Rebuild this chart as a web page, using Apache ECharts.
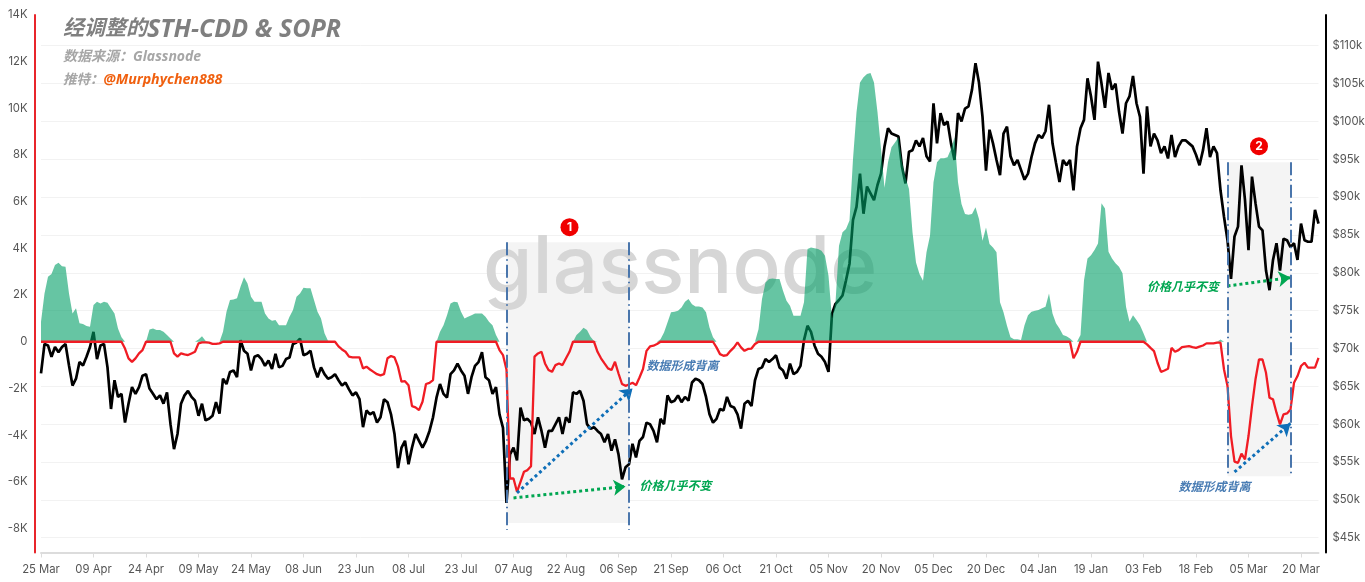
<!DOCTYPE html>
<html>
<head>
<meta charset="utf-8">
<title>STH-CDD & SOPR</title>
<script src="https://cdn.jsdelivr.net/npm/echarts@6/dist/echarts.min.js"></script>
<style>
  html, body { margin: 0; padding: 0; background: #fff; }
  #chart { width: 1365px; height: 582px; }
</style>
</head>
<body>
<div id="chart"></div>
<script>
// daily values, starting 25 Mar
var price = [
  66.7,70.6,70.4,68.9,70.2,69.5,70.2,70.6,67.75,65.1,
  66.0,68.2,67.75,68.9,70.2,72.2,68.6,70.4,70.6,67.5,
  62.0,65.8,63.6,64.0,60.2,62.7,64.9,64.0,64.9,66.4,
  66.6,64.7,64.0,63.3,63.8,62.7,64.2,60.0,56.7,58.7,
  62.7,63.8,64.4,63.6,63.1,61.1,62.7,60.5,60.7,61.1,
  62.9,61.4,66.0,65.3,66.9,67.1,66.2,71.1,69.7,69.3,
  67.1,68.9,69.1,68.6,67.7,68.4,67.3,69.3,67.5,67.7,
  68.6,68.8,70.6,70.8,71.3,69.1,69.3,69.7,67.5,66.2,
  67.5,66.6,66.0,66.2,66.6,65.8,65.1,65.5,64.6,63.8,
  64.2,63.3,59.6,61.8,61.3,61.6,60.2,60.9,63.3,62.9,
  61.3,58.7,54.2,56.9,57.8,54.7,56.9,58.7,57.8,56.9,
  57.8,59.1,60.9,63.5,65.3,64.0,63.5,66.6,67.1,68.0,
  67.1,66.4,64.0,66.2,67.7,68.2,69.5,66.2,65.8,64.0,
  64.9,61.3,59.5,49.6,56.0,56.9,55.2,62.2,60.5,60.7,
  60.2,58.7,60.9,59.1,56.9,59.1,59.1,60.0,60.9,58.7,
  60.9,60.2,64.2,64.0,64.4,63.1,60.0,59.4,59.6,59.1,
  58.7,57.6,58.7,56.5,58.0,56.0,52.7,54.3,54.7,57.4,
  55.6,57.8,58.3,60.2,60.0,59.1,57.6,60.7,60.0,63.8,
  62.9,63.1,63.8,62.9,63.6,63.1,65.5,66.0,65.8,65.3,
  63.6,61.3,60.2,60.7,62.0,61.8,63.6,62.4,62.2,61.3,
  59.4,62.7,63.1,62.4,65.8,67.3,67.5,68.6,68.2,68.6,
  69.1,67.5,67.1,66.0,68.0,66.6,66.9,67.7,71.1,73.0,
  72.2,70.4,69.3,68.9,68.2,66.9,74.6,75.9,76.4,77.0,
  79.0,81.2,87.0,88.7,93.1,87.8,91.4,90.5,89.6,91.6,
  93.1,96.7,99.1,98.4,98.2,98.0,94.0,91.8,96.0,96.2,
  97.5,96.7,97.8,95.4,94.7,102.4,97.1,101.1,99.5,100.0,
  97.1,94.9,101.1,100.0,101.7,102.0,104.2,107.7,105.1,100.6,
  93.5,98.9,97.1,94.9,92.9,98.4,99.3,95.4,94.2,94.9,
  93.6,92.3,93.1,95.3,97.1,98.2,97.8,98.7,102.2,97.1,
  94.5,92.0,94.9,94.2,94.9,90.9,96.7,99.1,100.2,105.7,
  103.3,100.2,107.9,105.0,101.8,106.4,104.2,105.0,101.3,98.4,
  102.4,103.3,106.0,102.4,100.6,93.1,102.0,96.7,98.4,97.5,
  95.8,96.7,95.1,98.2,95.3,96.7,97.5,97.5,97.1,96.7,
  95.6,94.2,96.2,99.1,95.3,96.7,95.8,90.9,87.4,84.3,
  79.2,84.8,86.1,94.2,89.6,83.0,92.7,89.2,86.1,85.6,
  80.3,77.7,81.7,83.9,80.3,84.5,84.3,83.4,83.9,81.7,
  86.5,84.3,84.1,84.1,88.3,86.5
]

var sthCdd = [
  0.86,2.07,2.79,2.9,3.29,3.39,3.24,3.21,2.07,1.21,
  1.43,0.79,0.76,0.67,0.64,1.57,1.71,1.64,1.71,1.67,
  1.43,1.21,0.57,0.19,0,0,0,0,0,0,
  0,0.53,0.57,0.5,0.5,0.43,0.29,0.14,0,0,
  0,0,0,0,0,0.1,0.24,0.04,0,0,
  0,0,0.43,1.29,1.79,1.81,1.86,2.36,2.76,2.5,
  1.93,1.71,1.71,1.71,1.21,1.0,0.9,0.93,0.71,0.71,
  0.71,1.07,1.36,1.93,2.07,2.31,2.29,2.29,1.79,1.29,
  1.0,0.36,0.04,0.03,0,0,0,0,0,0,
  0,0,0,0,0,0,0,0,0,0,
  0,0,0,0,0,0,0,0,0,0,
  0,0,0,0,0.43,0.71,1.14,1.64,1.71,1.69,
  1.29,1.0,1.07,1.14,1.21,1.21,1.21,1.07,0.86,0.71,
  0.29,0,0,0,0,0,0,0,0,0,
  0,0,0,0,0,0,0,0,0,0,
  0,0,0,0.29,0.43,0.6,0.5,0.21,0.03,0,
  0,0,0,0,0,0,0,0,0,0,
  0,0,0,0,0,0,0,0.11,0.4,0.83,
  1.26,1.29,1.33,1.47,1.71,1.83,1.61,1.51,1.51,1.47,
  1.26,0.61,0.19,0,0,0,0,0,0,0,
  0,0,0,0,0,0.54,1.83,2.54,2.69,2.71,
  2.69,2.69,2.19,1.76,1.54,1.11,1.11,1.11,1.69,3.97,
  4.04,4.01,3.97,3.9,3.69,2.83,1.0,1.69,4.11,4.69,
  4.83,5.19,7.83,9.83,11.11,11.33,11.47,11.51,11.11,9.83,
  8.26,6.6,7.69,8.33,8.54,8.76,7.69,7.04,6.54,4.69,
  3.4,2.9,2.61,3.83,4.54,6.83,7.69,7.86,7.86,7.9,
  8.26,8.76,6.83,5.9,5.47,5.44,5.47,5.76,5.26,4.33,
  4.9,4.19,4.04,3.83,1.69,1.26,0.69,0.19,0.11,0.11,
  0.07,0.71,1.14,1.29,1.33,1.36,1.43,1.5,2.07,1.21,
  0.79,0.57,0.29,0.24,0.14,0,0,0.29,2.64,3.57,
  3.71,3.93,4.21,5.93,5.71,3.86,3.57,3.36,3.21,2.93,
  1.5,0.86,1.14,0.93,0.71,0.36,0,0,0,0,
  0,0,0,0,0,0,0,0,0,0,
  0,0,0,0,0,0,0,0.1,0,0,
  0,0,0,0,0,0,0,0,0,0,
  0,0,0,0,0,0,0,0,0,0,
  0,0,0,0,0,0
]

var sopr = [
  0,0,0,0,0,0,0,0,0,0,
  0,0,0,0,0,0,0,0,0,0,
  0,0,0,0,-0.29,-0.71,-0.86,-0.71,-0.5,-0.36,
  0,0,0,0,0,0,0,0,-0.5,-0.64,
  -0.5,-0.54,-0.57,-0.5,-0.43,-0.07,-0.03,-0.03,-0.04,-0.09,
  -0.09,-0.07,0,0,0,0,0,0,0,0,
  0,0,0,0,0,0,0,0,0,0,
  0,0,0,0,0,0,0,0,0,0,
  0,0,0,0,0,-0.2,-0.33,-0.43,-0.64,-0.67,
  -0.67,-0.67,-1.14,-1.07,-1.19,-1.29,-1.39,-1.44,-1.39,-0.71,
  -0.61,-0.67,-1.07,-1.71,-1.69,-1.86,-2.76,-2.81,-2.93,-2.57,
  -1.81,-1.76,-1.64,0,0,0,0,0,0,0,
  0,0,0,0,0,0,0,0,0,0,
  0,-0.36,-0.57,-1.2,-5.86,-5.86,-6.43,-6.0,-5.57,-5.5,
  -5.33,-0.64,-0.5,-0.43,-0.93,-1.21,-1.29,-1.0,-0.93,-1.0,
  -0.71,-0.43,0,0,0,0,0,0,0,-0.43,
  -0.71,-0.93,-1.14,-1.21,-0.86,-1.36,-1.81,-1.89,-1.83,-1.76,
  -1.86,-1.53,-1.17,-0.39,-0.2,-0.17,-0.1,0,0,0,
  0,0,0,0,0,0,0,0,0,0,
  0,0,0,-0.24,-0.53,-0.6,-0.57,-0.39,-0.24,-0.03,
  -0.24,-0.39,-0.31,-0.29,-0.1,0,0,0,0,0,
  0,0,0,0,0,0,0,0,0,0,
  0,0,0,0,0,0,0,0,0,0,
  0,0,0,0,0,0,0,0,0,0,
  0,0,0,0,0,0,0,0,0,0,
  0,0,0,0,0,0,0,0,0,0,
  0,0,0,0,0,0,0,0,0,0,
  0,0,0,0,0,0,0,0,0,0,
  0,0,0,0,0,0,0,0,0,0,
  0,0,0,0,0,-0.71,-0.43,0,0,0,
  0,0,0,0,0,0,0,0,0,0,
  0,0,0,0,0,0,-0.11,-0.26,-0.4,-0.9,
  -1.29,-1.23,-1.16,-0.26,-0.43,-0.36,-0.23,-0.21,-0.19,-0.23,
  -0.26,-0.21,-0.16,-0.07,-0.07,-0.07,-0.04,-0.04,-1.19,-1.9,
  -4.04,-5.14,-5.19,-4.79,-5.04,-4.04,-2.76,-1.61,-0.76,-0.76,
  -1.33,-2.4,-2.47,-3.04,-3.54,-3.11,-3.07,-2.9,-1.76,-1.47,
  -1.04,-0.9,-1.11,-1.11,-1.11,-0.69
]

var leftTicks = [-8, -6, -4, -2, 0, 2, 4, 6, 8, 10, 12, 14]
var rightTicks = [45, 50, 55, 60, 65, 70, 75, 80, 85, 90, 95, 100, 105, 110]

// one category per day, 25 Mar -> 25 Mar
var months = ['Jan', 'Feb', 'Mar', 'Apr', 'May', 'Jun', 'Jul', 'Aug', 'Sep', 'Oct', 'Nov', 'Dec']
var days = price.map(function (_, i) {
  var d = new Date(Date.UTC(2024, 2, 25 + i))
  return String(d.getUTCDate()).padStart(2, '0') + ' ' + months[d.getUTCMonth()]
})

// annotations, in data units: [day index, left axis value]
var shades = [
  [[133.1, 4.26], [168.3, -7.77]],
  [[339.4, 7.69], [357.4, -5.76]]
]
var dashLines = [
  [[133.1, 4.26], [133.1, -8.07]],
  [[168.3, 4.26], [168.3, -8.07]],
  [[339.4, 7.69], [339.4, -5.76]],
  [[357.4, 7.69], [357.4, -5.76]]
]
var blueArrows = [
  [[136, -6.48], [168.6, -2.0]],
  [[341.4, -5.58], [356.6, -3.5]]
]
var greenArrows = [
  [[134.9, -6.69], [167.4, -6.2]],
  [[339.4, 2.39], [357.2, 2.75]]
]
var blueNotes = [[173.4, -1.08], [324.6, -6.26]]
var greenNotes = [[171.1, -6.22], [316, 2.3]]
var badges = [[150.6, 4.91, '1'], [348.3, 8.38, '2']]

var FONT = "'Open Sans', 'Noto Sans CJK SC', sans-serif"
var myChart = echarts.init(document.getElementById('chart'), null, { renderer: 'canvas' })

function toLines(list, style) {
  return list.map(function (pair) {
    return [{ coord: pair[0], lineStyle: style }, { coord: pair[1], lineStyle: style }]
  })
}

function notes(list, text, color) {
  return list.map(function (p) {
    return {
      coord: p,
      symbolSize: 0,
      label: {
        show: true,
        position: 'right',
        distance: 0,
        formatter: text,
        color: color,
        fontFamily: FONT,
        fontStyle: 'italic',
        fontWeight: 'bold',
        fontSize: 12
      }
    }
  })
}

var dashStyle = { color: '#4a76ac', width: 2, type: [13, 4, 1.5, 4] }
var blueStyle = { color: '#0f6fb8', width: 3, type: [3, 3] }
var greenStyle = { color: '#00a651', width: 3, type: [3, 3] }

var option = {
  animation: false,
  backgroundColor: '#fff',
  title: [
    {
      text: '{a|经调整的}{b|STH-CDD & SOPR}',
      left: 58,
      top: 12,
      textStyle: {
        rich: {
          a: { fontFamily: FONT, fontSize: 21, fontWeight: 'bold', fontStyle: 'italic', color: '#7f7f7f' },
          b: { fontFamily: FONT, fontSize: 25, fontWeight: 'bold', fontStyle: 'italic', color: '#7f7f7f' }
        }
      }
    },
    {
      text: '数据来源：Glassnode',
      left: 58,
      top: 45,
      textStyle: { fontFamily: FONT, fontSize: 14, fontWeight: 'bold', fontStyle: 'italic', color: '#a6a6a6' }
    },
    {
      text: '{a|推特：}{b|@Murphychen888}',
      left: 58,
      top: 68,
      textStyle: {
        rich: {
          a: { fontFamily: FONT, fontSize: 13.5, fontWeight: 'bold', fontStyle: 'italic', color: '#a6a6a6' },
          b: { fontFamily: FONT, fontSize: 14.2, fontWeight: 'bold', fontStyle: 'italic', color: '#f0600f' }
        }
      }
    }
  ],
  graphic: [
    {
      type: 'text',
      left: 483,
      top: 229,
      z: 1.5,
      silent: true,
      style: { text: 'glassnode', font: '500 80px Inter', fill: '#d6d6d6' }
    }
  ],
  grid: { left: 41, right: 46.5, top: 15, bottom: 29.5, outerBoundsMode: 'none' },
  xAxis: {
    type: 'category',
    data: days,
    boundaryGap: false,
    axisLine: { onZero: false, lineStyle: { color: '#dcdcdc', width: 2 } },
    axisTick: { interval: 14, length: 5, lineStyle: { color: '#dcdcdc' } },
    axisLabel: { interval: 14, color: '#555', fontFamily: 'Inter', fontSize: 11.3, margin: 12 },
    splitLine: { show: false }
  },
  yAxis: [
    {
      type: 'value',
      position: 'left',
      offset: 6.5,
      min: -9.03,
      max: 14,
      axisLine: { show: true, lineStyle: { color: '#e8252b', width: 2 } },
      axisTick: { show: false },
      axisLabel: {
        customValues: leftTicks,
        margin: 7,
        color: '#555',
        fontFamily: 'Inter',
        fontSize: 11.3,
        formatter: function (v) { return v === 0 ? '0' : v + 'K' }
      },
      splitLine: { show: false }
    },
    {
      type: 'value',
      position: 'right',
      offset: 7,
      min: 43.04,
      max: 114.06,
      axisLine: { show: true, lineStyle: { color: '#000', width: 2 } },
      axisTick: { show: false, customValues: rightTicks },
      axisLabel: {
        customValues: rightTicks,
        margin: 7,
        color: '#555',
        fontFamily: 'Inter',
        fontSize: 11.3,
        formatter: function (v) { return '$' + v + 'k' }
      },
      splitLine: { show: true, lineStyle: { color: '#f2f2f2', width: 1 } }
    }
  ],
  series: [
    {
      name: 'Price',
      type: 'line',
      yAxisIndex: 1,
      z: 2,
      data: price,
      showSymbol: false,
      lineStyle: { color: '#000', width: 2.7, join: 'bevel' }
    },
    {
      name: 'STH-CDD',
      type: 'line',
      yAxisIndex: 0,
      z: 3,
      data: sthCdd,
      showSymbol: false,
      lineStyle: { width: 0 },
      areaStyle: { color: 'rgba(0,158,102,0.6)', opacity: 1, origin: 0 }
    },
    {
      name: 'SOPR',
      type: 'line',
      yAxisIndex: 0,
      z: 4,
      data: sopr,
      showSymbol: false,
      lineStyle: { color: '#f01c24', width: 2.3 }
    },
    {
      name: 'notes',
      type: 'line',
      yAxisIndex: 0,
      data: [],
      markArea: {
        silent: true,
        itemStyle: { color: '#f4f4f4' },
        data: shades.map(function (s) { return [{ coord: s[0] }, { coord: s[1] }] })
      },
      markLine: {
        silent: true,
        animation: false,
        symbol: ['none', 'arrow'],
        symbolSize: 12,
        label: { show: false },
        data: toLines(blueArrows, blueStyle).concat(toLines(greenArrows, greenStyle))
      },
      markPoint: {
        silent: true,
        data: notes(blueNotes, '数据形成背离', '#4a7db4')
          .concat(notes(greenNotes, '价格几乎不变', '#00a651'))
          .concat(badges.map(function (b) {
            return {
              coord: [b[0], b[1]],
              symbol: 'circle',
              symbolSize: 18,
              itemStyle: { color: '#f00000' },
              label: { show: true, position: 'inside', formatter: b[2], color: '#fff', fontWeight: 'bold', fontSize: 12, fontFamily: 'Inter' }
            }
          }))
      }
    },
    {
      name: 'dash',
      type: 'line',
      yAxisIndex: 0,
      data: [],
      markLine: {
        silent: true,
        animation: false,
        symbol: 'none',
        label: { show: false },
        data: toLines(dashLines, dashStyle)
      }
    }
  ]
}

option && myChart.setOption(option)
</script>
</body>
</html>
